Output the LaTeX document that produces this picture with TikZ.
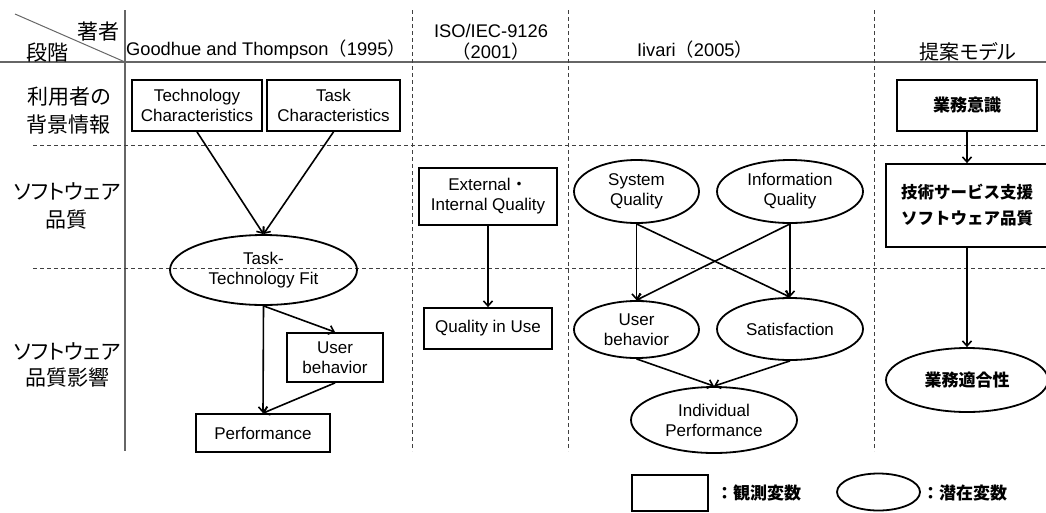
\documentclass[tikz,border=0pt]{standalone}
\usepackage{fontspec}
\setmainfont{Liberation Sans}
\newfontfamily\cjk{Noto Sans CJK JP}
\newfontfamily\cjkp[RawFeature=+palt]{Noto Sans CJK JP}
\usetikzlibrary{shapes.geometric,arrows.meta}

\newcommand\ndfont{\fontsize{17}{20}\selectfont}
\newcommand\hdfont{\fontsize{18.3}{21}\selectfont}
\newcommand\rowfont{\cjkp\fontsize{21}{28}\selectfont}

\tikzset{
  obs/.style={draw, rectangle, line width=1.8pt, inner sep=0pt, align=center, font=\ndfont},
  lat/.style={draw, ellipse, line width=1.8pt, inner sep=0pt, align=center, font=\ndfont},
  arr/.style={-{Straight Barb[length=5pt,width=9pt]}, line width=1.6pt},
  gridline/.style={draw=black!75, line width=1pt, dash pattern=on 4pt off 3pt},
  ruleline/.style={draw=black!60, line width=1.4pt},
  hdr/.style={inner sep=0pt, align=center, font=\hdfont},
  rowlbl/.style={inner sep=0pt, align=center, font=\rowfont},
}

\begin{document}
\begin{tikzpicture}[x=1pt,y=-1pt]
\useasboundingbox (0,0) rectangle (1046,512);
\clip (0,0) rectangle (1046,512);

% table rules
\draw[ruleline] (0,62) -- (1046,62);
\draw[ruleline] (125,10) -- (125,451);
\draw[ruleline, line width=1pt] (15,14) -- (125,62);
\draw[gridline] (33,145) -- (1046,145);
\draw[gridline] (33,268) -- (1046,268);
\draw[gridline] (412,10) -- (412,451);
\draw[gridline] (568,10) -- (568,451);
\draw[gridline] (874,10) -- (874,451);

% header cells
\node[hdr, font=\cjk\fontsize{21}{24}\selectfont] (hauthor) at (98,32) {著者};
\node[hdr, font=\cjk\fontsize{21}{24}\selectfont] (hstage) at (47,53) {段階};
\node[hdr] (hgt) at (266,50) {Goodhue and Thompson{\cjk （}1995{\cjk ）}};
\node[hdr] (hiso) at (491,42) {ISO/IEC-9126\\{\cjk （}2001{\cjk ）}};
\node[hdr] (hiiv) at (695,50) {Iivari{\cjk （}2005{\cjk ）}};
\node[hdr, font=\cjkp\fontsize{20}{24}\selectfont] (hprop) at (968,52) {提案モデル};

% row labels
\node[rowlbl] (rbg) at (69,111) {利用者の\\背景情報};
\node[rowlbl] (rsq) at (67,206) {ソフトウェア\\品質};
\node[rowlbl, font=\cjkp\fontsize{21}{26}\selectfont] (rsi) at (67,365) {ソフトウェア\\品質影響};

% Goodhue and Thompson (1995)
\node[obs, minimum width=130, minimum height=51] (tc) at (197,105.5) {Technology\\Characteristics};
\node[obs, minimum width=133, minimum height=51] (ta) at (333.5,105.5) {Task\\Characteristics};
\node[lat, minimum width=187, minimum height=70] (ttf) at (263.5,270) {Task-\\Technology Fit};
\node[obs, minimum width=96, minimum height=49] (gub) at (335,357.5) {User\\behavior};
\node[obs, minimum width=134, minimum height=38] (gperf) at (263,433) {Performance};
\draw[arr] (tc.south) -- (ttf.north);
\draw[arr] (ta.south) -- (ttf.north);
\draw[arr] (ttf.south) -- (gperf.north);
\draw[arr] (ttf.south) -- (gub.north);
\draw[arr] (gub.south) -- (gperf.north);

% ISO/IEC-9126 (2001)
\node[obs, minimum width=138, minimum height=57] (eiq) at (488,196.5) {External{\cjk ・}\\Internal Quality};
\node[obs, minimum width=128, minimum height=41] (qiu) at (488,328.5) {Quality in Use};
\draw[arr] (eiq.south) -- (qiu.north);

% Iivari (2005)
\node[lat, minimum width=125, minimum height=63] (sq) at (636.5,191.5) {System\\Quality};
\node[lat, minimum width=146, minimum height=63] (iq) at (790,191.5) {Information\\Quality};
\node[lat, minimum width=125, minimum height=57] (iub) at (636.5,329.5) {User\\behavior};
\node[lat, minimum width=146, minimum height=62] (sat) at (790,329) {Satisfaction};
\node[lat, minimum width=166, minimum height=66] (ip) at (714,420) {Individual\\Performance};
\draw[arr] (sq.south) -- (iub.north);
\draw[arr] (sq.south) -- (sat.north);
\draw[arr] (iq.south) -- (iub.north);
\draw[arr] (iq.south) -- (sat.north);
\draw[arr] (iub.south) -- (ip.north);
\draw[arr] (sat.south) -- (ip.north);

% proposed model
\node[obs, minimum width=140, minimum height=51, font=\cjk\bfseries\fontsize{17}{26}\selectfont] (aware) at (967,105.5) {業務意識};
\node[obs, minimum width=162, minimum height=83, font=\cjk\bfseries\fontsize{16.5}{26}\selectfont] (tssq) at (967,205.5) {技術サービス支援\\ソフトウェア品質};
\node[lat, minimum width=162, minimum height=64, font=\cjk\bfseries\fontsize{17}{26}\selectfont] (fit) at (967,380) {業務適合性};
\draw[arr] (aware.south) -- (tssq.north);
\draw[arr] (tssq.south) -- (fit.north);

% legend
\node[obs, minimum width=76, minimum height=36] (lgbox) at (670,493) {};
\node[inner sep=0pt, anchor=west, font=\cjk\bfseries\fontsize{17}{20}\selectfont] (lgobs) at (716,493) {：観測変数};
\node[lat, minimum width=83, minimum height=37] (lgell) at (878.5,492) {};
\node[inner sep=0pt, anchor=west, font=\cjk\bfseries\fontsize{17}{20}\selectfont] (lglat) at (922,493) {：潜在変数};
\end{tikzpicture}
\end{document}
